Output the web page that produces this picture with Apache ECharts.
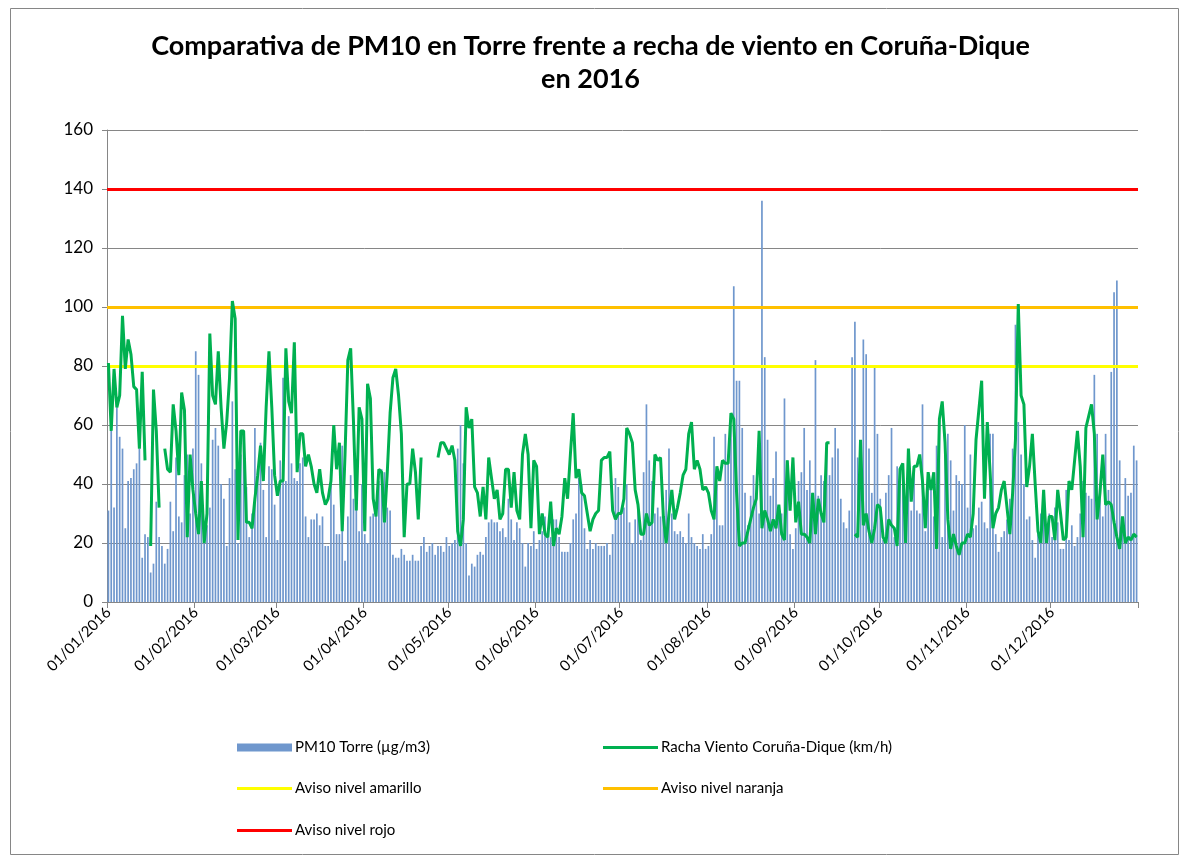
<!DOCTYPE html>
<html><head><meta charset="utf-8">
<script src="https://cdn.jsdelivr.net/npm/echarts@6/dist/echarts.min.js"></script>
<style>html,body{margin:0;padding:0;background:#fff}#c{width:1181px;height:858px}</style>
</head><body><div id="c"></div>
<script>
// ---- PM10 Torre (µg/m3), daily, 2016 ----
const pm10Jan=[31,58,32,66,56,52,25,41,42,45,47,52,15,23,22,10,13,34,22,19,13,18,34,24,49,29,27,43,50,30,52];
const pm10Feb=[85,77,47,20,26,32,55,59,53,40,35,19,42,68,45,20,50,58,39,22,30,59,45,54,38,22,46,45,33];
const pm10Mar=[21,48,76,41,63,47,42,41,47,49,29,22,28,28,30,26,29,19,19,40,33,23,23,53,14,29,43,35,35,24,40];
const pm10Apr=[23,20,29,30,32,41,45,44,32,31,16,15,15,18,16,14,14,16,14,14,19,22,17,19,20,16,19,19,17,22];
const pm10May=[19,20,21,52,60,47,20,9,13,12,16,17,16,22,27,28,27,27,24,25,22,35,28,21,27,25,20,12,20,19,24];
const pm10Jun=[18,21,24,29,22,22,28,28,22,17,17,17,20,28,30,42,40,25,18,21,18,20,19,19,19,20,16,23,42,39];
const pm10Jul=[31,32,40,27,20,28,31,21,44,67,48,41,30,32,29,28,38,52,30,24,23,24,22,20,30,22,20,19,18,23,18];
const pm10Aug=[19,23,56,40,26,26,57,50,60,107,75,75,59,37,26,36,43,37,30,136,83,55,36,42,51,32,30,69,48,23,18];
const pm10Sep=[25,41,44,59,38,48,37,82,36,43,41,54,43,49,59,52,35,27,25,31,83,95,49,54,89,84,52,37,80,57];
const pm10Oct=[35,21,37,43,59,22,46,40,44,20,40,31,46,31,30,67,24,44,41,29,53,60,22,54,57,48,31,43,41,40,60];
const pm10Nov=[32,50,25,26,32,34,27,25,57,57,23,17,22,24,28,35,52,94,61,50,40,28,29,21,15,23,30,31,24,30];
const pm10Dec=[22,32,27,18,18,38,21,26,19,22,30,41,37,36,35,77,57,38,29,57,38,78,105,109,48,25,42,36,37,53,48];

// ---- Racha Viento Coruña-Dique (km/h), daily, 2016 ----
const windJan=[81,58,79,66,70,97,79,89,84,73,72,52,78,48,null,19,72,58,32,null,52,45,44,67,58,43,71,65,22,50,38];
const windFeb=[30,23,41,20,30,91,70,67,85,66,52,61,76,102,96,21,58,58,27,27,25,35,43,53,41,66,85,66,43];
const windMar=[36,41,41,86,68,64,88,44,57,57,46,50,46,40,37,45,37,33,35,41,60,45,54,24,50,82,86,61,31,66,62];
const windApr=[24,74,69,35,29,45,44,27,44,64,76,79,70,57,22,40,40,52,44,28,49,null,null,null,null,null,49,54,54,52];
const windMay=[50,53,48,24,19,28,66,59,62,39,37,29,39,28,49,42,35,38,28,30,45,45,32,44,31,28,50,57,50,25,48];
const windJun=[46,23,30,23,22,34,19,25,23,29,42,35,50,64,42,45,37,36,30,24,28,30,31,48,49,49,51,31,28,30];
const windJul=[30,35,59,57,54,38,33,23,23,30,26,27,50,48,49,29,20,30,38,28,32,37,43,45,57,61,45,48,45,38,39];
const windAug=[37,31,28,46,41,48,47,47,64,62,37,19,20,20,24,28,32,35,58,25,31,28,24,28,25,33,23,21,48,31,49];
const windSep=[27,34,23,23,22,20,37,23,35,30,27,54,54,null,null,null,null,null,null,null,null,23,22,55,26,30,24,20,25,33];
const windOct=[32,22,20,28,26,25,19,45,47,20,52,34,46,46,50,41,25,44,38,44,18,62,68,54,28,18,23,19,16,20,20];
const windNov=[23,22,30,55,65,75,35,61,44,25,30,32,38,41,32,23,37,55,101,70,67,39,46,57,40,24,20,38,20,29];
const windDec=[29,21,38,30,21,22,41,38,48,58,46,22,59,63,67,57,28,37,50,33,34,33,27,22,18,29,20,22,21,23,22];

// ---- warning levels ----
const avisoAmarillo = 80;
const avisoNaranja = 100;
const avisoRojo = 140;

// ---- axis ----
const yMin = 0, yMax = 160, yStep = 20;
const dates = [];
for (let d = new Date(Date.UTC(2016,0,1)); d.getUTCFullYear() === 2016; d.setUTCDate(d.getUTCDate()+1)) {
  const dd = String(d.getUTCDate()).padStart(2,'0');
  const mm = String(d.getUTCMonth()+1).padStart(2,'0');
  dates.push(dd + '/' + mm + '/2016');
}

const pm10 = [].concat(pm10Jan,pm10Feb,pm10Mar,pm10Apr,pm10May,pm10Jun,pm10Jul,pm10Aug,pm10Sep,pm10Oct,pm10Nov,pm10Dec);
const wind = [].concat(windJan,windFeb,windMar,windApr,windMay,windJun,windJul,windAug,windSep,windOct,windNov,windDec);

const names = ['PM10 Torre (µg/m3)','Racha Viento Coruña-Dique (km/h)','Aviso nivel amarillo','Aviso nivel naranja','Aviso nivel rojo'];
const FONT = 'Lato, "Open Sans", sans-serif';
const isMonthStart = (i, v) => String(v).startsWith('01/');
const linePath = 'path://M0,0 L56,0 L56,3 L0,3 Z';

function legendAt(name, left, top, isBar) {
  return {
    data: [name], left: left, top: top, orient: 'horizontal', padding: 0,
    itemWidth: 55, itemHeight: isBar ? 8 : 3, itemGap: 0,
    icon: isBar ? 'rect' : linePath,
    textStyle: {fontFamily: FONT, fontSize: 15, color: '#000', padding: [0,0,0,-2]},
    selectedMode: false
  };
}

function levelSeries(name, level, color) {
  return {
    name: name, type: 'line', data: [], color: color, symbol: 'none',
    lineStyle: {color: color, width: 3},
    markLine: {
      silent: true, symbol: ['none','none'], animation: false,
      label: {show: false},
      lineStyle: {color: color, width: 3, type: 'solid'},
      emphasis: {disabled: true},
      data: [{yAxis: level}]
    },
    z: 4
  };
}

const chart = echarts.init(document.getElementById('c'), null, {renderer: 'canvas'});
chart.setOption({
  animation: false,
  backgroundColor: '#fff',
  title: {
    text: 'Comparativa de PM10 en Torre frente a recha de viento en Coruña-Dique\nen 2016',
    left: 'center', top: 25,
    textStyle: {fontFamily: FONT, fontSize: 27, fontWeight: 'bold', color: '#000', lineHeight: 33, align: 'center'}
  },
  graphic: [{
    type: 'rect', left: 8, top: 6, silent: true,
    shape: {width: 1168, height: 846},
    style: {fill: 'none', stroke: '#868686', lineWidth: 1}
  }],
  legend: [
    legendAt(names[0], 237, 740, true),
    legendAt(names[1], 603, 740, false),
    legendAt(names[2], 237, 781, false),
    legendAt(names[3], 603, 781, false),
    legendAt(names[4], 237, 823, false)
  ],
  grid: {left: 107, right: 43, top: 130, bottom: 256, containLabel: false},
  xAxis: {
    type: 'category', data: dates, boundaryGap: true,
    axisLine: {lineStyle: {color: '#868686', width: 1}},
    axisTick: {show: true, interval: isMonthStart, length: 6, lineStyle: {color: '#868686'}},
    axisLabel: {interval: isMonthStart, rotate: 45, fontFamily: FONT, fontSize: 15, color: '#000', margin: 8},
    splitLine: {show: false}
  },
  yAxis: {
    type: 'value', min: yMin, max: yMax, interval: yStep,
    axisLine: {show: true, lineStyle: {color: '#868686'}},
    axisTick: {show: true, length: 5, lineStyle: {color: '#868686'}},
    axisLabel: {fontFamily: FONT, fontSize: 17, color: '#000', margin: 14},
    splitLine: {show: true, lineStyle: {color: '#868686', width: 1}}
  },
  series: [
    {
      name: names[0], type: 'bar', data: pm10, barWidth: 1.7, color: '#6f97cd',
      itemStyle: {color: '#6f97cd'}, z: 1
    },
    levelSeries(names[2], avisoAmarillo, '#FFFF00'),
    levelSeries(names[3], avisoNaranja, '#FFC000'),
    levelSeries(names[4], avisoRojo, '#FF0000'),
    {
      name: names[1], type: 'line', data: wind, color: '#00B050', symbol: 'none', showSymbol: false,
      connectNulls: false, lineStyle: {color: '#00B050', width: 3}, z: 5
    }
  ]
});
</script>
</body></html>
